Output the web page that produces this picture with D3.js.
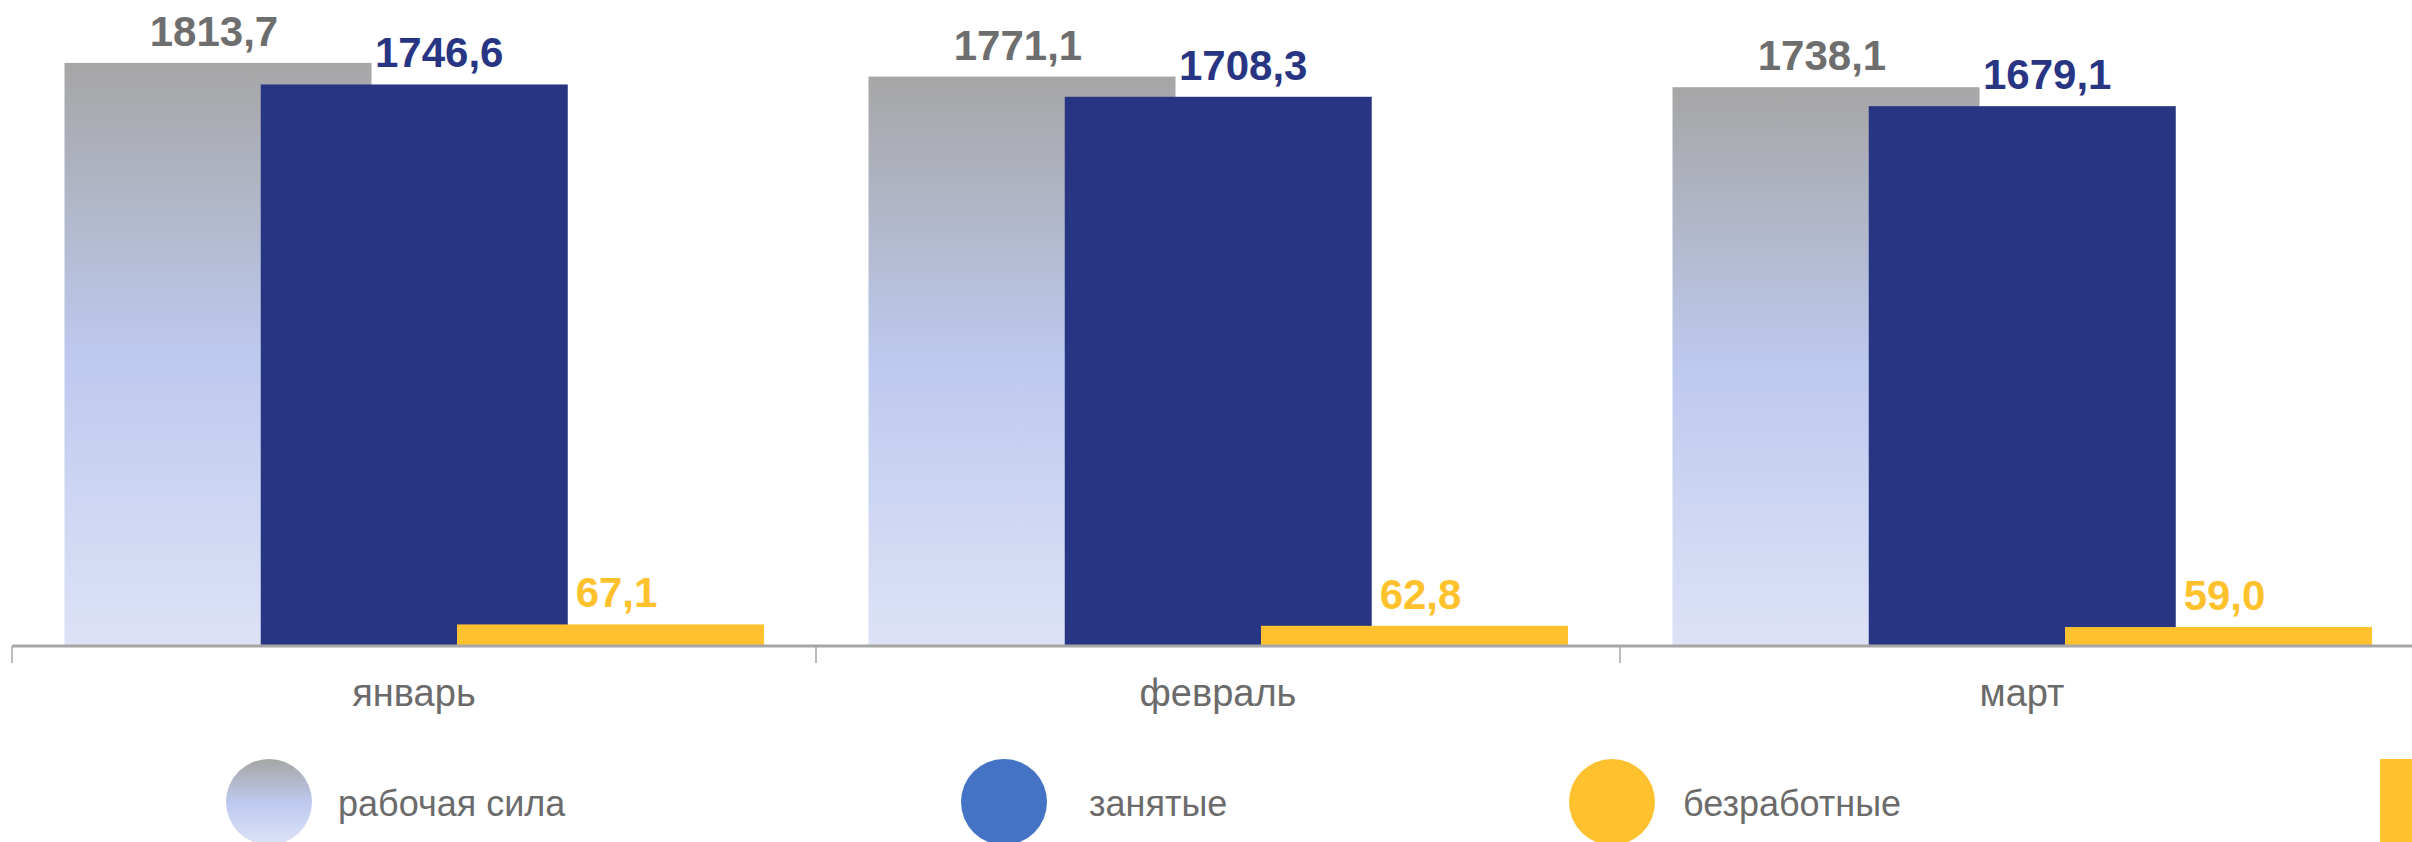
<!DOCTYPE html>
<html>
<head>
<meta charset="utf-8">
<script src="https://cdn.jsdelivr.net/npm/d3@7"></script>
<style>
  html, body { margin: 0; padding: 0; background: #ffffff; overflow: hidden; }
  svg { display: block; font-family: "Liberation Sans", Arial, sans-serif; }
</style>
</head>
<body>
<svg id="chart" width="2412" height="842"></svg>
<script>
// ---- data ----
const categories = ["январь", "февраль", "март"];
const seriesNames = ["рабочая сила", "занятые", "безработные"];
const laborForce = [1813.7, 1771.1, 1738.1];
const employed = [1746.6, 1708.3, 1679.1];
const unemployed = [67.1, 62.8, 59.0];
const valueLabels = [
  ["1813,7", "1771,1", "1738,1"],
  ["1746,6", "1708,3", "1679,1"],
  ["67,1", "62,8", "59,0"]
];

// ---- layout / style ----
const W = 2412, H = 842;
const baseY = 646;
const svg = d3.select("#chart");

const seriesValues = [laborForce, employed, unemployed];
const labelColors = ["#6e6e6e", "#283583", "#ffc22d"];
const labelDx = [-4, 25, 6];

const x0 = d3.scaleBand().domain(categories).range([12, 12 + 3 * 804]).padding(0);
const x1 = d3.scalePoint().domain(seriesNames).range([52.5, 445]);
const barW = 307;
const y = d3.scaleLinear().domain([0, 2000]).range([baseY, 3]);

const defs = svg.append("defs");
function addGrad(id) {
  const g = defs.append("linearGradient").attr("id", id)
    .attr("x1", 0).attr("y1", 0).attr("x2", 0).attr("y2", 1);
  g.append("stop").attr("offset", "0%").attr("stop-color", "#a6a6a6");
  g.append("stop").attr("offset", "50%").attr("stop-color", "#bdc9ee");
  g.append("stop").attr("offset", "100%").attr("stop-color", "#dde2f6");
}
addGrad("lfGrad");
addGrad("legGrad");

const fills = ["url(#lfGrad)", "#283583", "#ffc12e"];

// bars
seriesNames.forEach((s, si) => {
  svg.append("g").selectAll("rect")
    .data(categories.map((c, ci) => ({ c, v: seriesValues[si][ci] })))
    .join("rect")
    .attr("x", d => x0(d.c) + x1(s))
    .attr("y", d => y(d.v))
    .attr("width", barW)
    .attr("height", d => baseY - y(d.v))
    .attr("fill", fills[si]);
});

// axis
const axis = d3.axisBottom(x0).tickSize(0).tickFormat("");
const gAxis = svg.append("g").attr("transform", `translate(0,${baseY})`).call(axis);
gAxis.select(".domain").attr("stroke", "#a6a6a6").attr("stroke-width", 3)
  .attr("d", `M12,0H${W + 20}`);
// category boundary ticks
svg.append("g").selectAll("line")
  .data(categories)
  .join("line")
  .attr("x1", d => x0(d)).attr("x2", d => x0(d))
  .attr("y1", baseY).attr("y2", baseY + 17)
  .attr("stroke", "#a6a6a6").attr("stroke-width", 1.5);

// category labels
svg.append("g").selectAll("text")
  .data(categories)
  .join("text")
  .attr("x", d => x0(d) + x0.bandwidth() / 2)
  .attr("y", 706)
  .attr("text-anchor", "middle")
  .attr("font-size", 38)
  .attr("fill", "#6b6b6b")
  .text(d => d);

// value labels
seriesNames.forEach((s, si) => {
  svg.append("g").selectAll("text")
    .data(categories.map((c, ci) => ({ c, v: seriesValues[si][ci], t: valueLabels[si][ci] })))
    .join("text")
    .attr("x", d => x0(d.c) + x1(s) + barW / 2 + labelDx[si])
    .attr("y", d => y(d.v) - 17)
    .attr("text-anchor", "middle")
    .attr("font-size", 42)
    .attr("font-weight", "bold")
    .attr("fill", labelColors[si])
    .text(d => d.t);
});

// legend
const legendFills = ["url(#legGrad)", "#4472c4", "#ffc12e"];
const legendX = [269, 1004, 1612];
const legendTextX = [338, 1089, 1683];
const legendY = 802;
const lg = svg.append("g");
seriesNames.forEach((s, i) => {
  lg.append("circle").attr("cx", legendX[i]).attr("cy", legendY).attr("r", 43)
    .attr("fill", legendFills[i]);
  lg.append("text").attr("x", legendTextX[i]).attr("y", legendY + 14)
    .attr("font-size", 36).attr("fill", "#6b6b6b").text(s);
});
lg.append("rect").attr("x", 2380).attr("y", 759).attr("width", 60).attr("height", 120)
  .attr("fill", "#ffc12e");
</script>
</body>
</html>
